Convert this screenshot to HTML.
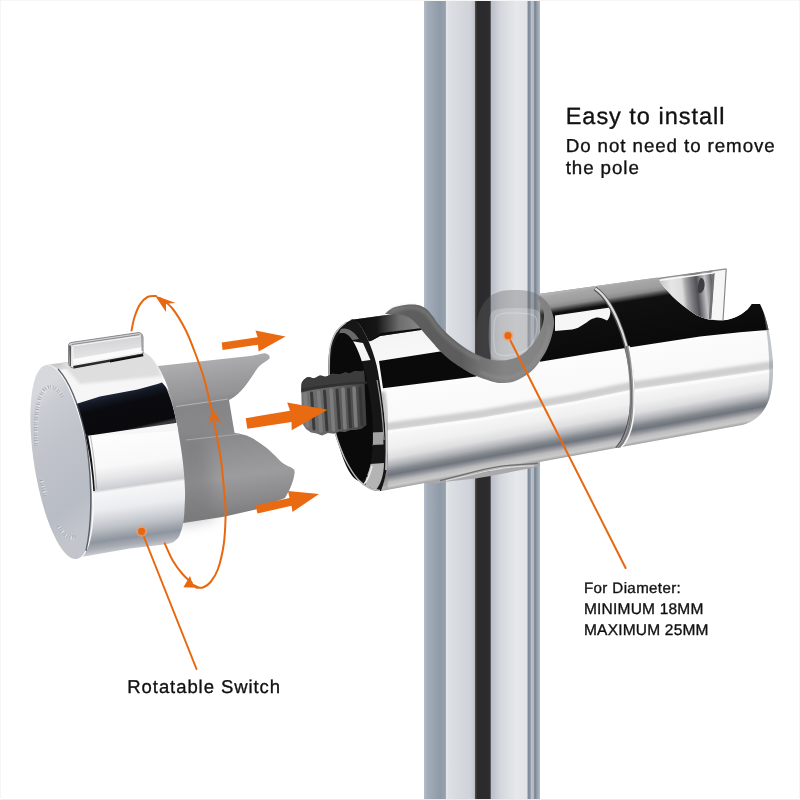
<!DOCTYPE html>
<html>
<head>
<meta charset="utf-8">
<title>Shower head holder</title>
<style>
html,body{margin:0;padding:0;background:#fff;}
body{width:800px;height:800px;overflow:hidden;position:relative;font-family:"Liberation Sans",Arial,sans-serif;color:#111;}
svg{position:absolute;left:0;top:0;display:block;}
</style>
</head>
<body>
<svg id="art" width="800" height="800" viewBox="0 0 800 800">
<defs>
<linearGradient id="pole" gradientUnits="userSpaceOnUse" x1="424" y1="0" x2="540" y2="0">
<stop offset="0" stop-color="#b4bdc7"/>
<stop offset="0.03" stop-color="#a3adb9"/>
<stop offset="0.14" stop-color="#8f9aa8"/>
<stop offset="0.185" stop-color="#98a2ae"/>
<stop offset="0.19" stop-color="#e4e7ea"/>
<stop offset="0.22" stop-color="#dcdfe4"/>
<stop offset="0.40" stop-color="#cfd3d9"/>
<stop offset="0.435" stop-color="#c2c6cc"/>
<stop offset="0.44" stop-color="#5a4d48"/>
<stop offset="0.46" stop-color="#2a2a2c"/>
<stop offset="0.57" stop-color="#2d2d30"/>
<stop offset="0.58" stop-color="#b9bfc8"/>
<stop offset="0.66" stop-color="#d4d8dd"/>
<stop offset="0.80" stop-color="#e6e8eb"/>
<stop offset="0.89" stop-color="#dfe2e6"/>
<stop offset="0.895" stop-color="#7e8997"/>
<stop offset="0.915" stop-color="#8893a0"/>
<stop offset="0.925" stop-color="#b9c0ca"/>
<stop offset="0.945" stop-color="#b0b8c2"/>
<stop offset="0.955" stop-color="#75808e"/>
<stop offset="0.97" stop-color="#8d98a5"/>
<stop offset="1" stop-color="#b3bbc6"/>
</linearGradient>

<linearGradient id="body" gradientUnits="userSpaceOnUse" x1="600" y1="285.4" x2="629.3" y2="445.6">
<stop offset="0" stop-color="#8c8c8c"/>
<stop offset="0.05" stop-color="#f4f4f4"/>
<stop offset="0.41" stop-color="#fcfcfc"/>
<stop offset="0.66" stop-color="#f8f8f8"/>
<stop offset="0.75" stop-color="#f0f0f0"/>
<stop offset="0.81" stop-color="#dedee0"/>
<stop offset="0.855" stop-color="#b0b2b6"/>
<stop offset="0.89" stop-color="#80848b"/>
<stop offset="0.912" stop-color="#70747c"/>
<stop offset="0.93" stop-color="#8c8f95"/>
<stop offset="0.955" stop-color="#bcbcbe"/>
<stop offset="0.98" stop-color="#cbcbcb"/>
<stop offset="1" stop-color="#a0a0a0"/>
</linearGradient>
<linearGradient id="topgray" gradientUnits="userSpaceOnUse" x1="600" y1="285.4" x2="625.7" y2="445.9">
<stop offset="0" stop-color="#b4b4b4"/>
<stop offset="0.015" stop-color="#a8a8a8"/>
<stop offset="0.06" stop-color="#9e9e9e"/>
<stop offset="0.085" stop-color="#8c8c8c"/>
<stop offset="0.105" stop-color="#4a4a4a"/>
<stop offset="0.125" stop-color="#101010"/>
<stop offset="0.5" stop-color="#080808"/>
</linearGradient>
<linearGradient id="d1" gradientUnits="userSpaceOnUse" x1="350" y1="0" x2="440" y2="0">
<stop offset="0" stop-color="#0c0c0c"/>
<stop offset="0.3" stop-color="#161616"/>
<stop offset="0.55" stop-color="#6e6e6e"/>
<stop offset="0.8" stop-color="#8a8a8a"/>
<stop offset="1" stop-color="#7a7a7a"/>
</linearGradient>
<linearGradient id="slot" gradientUnits="userSpaceOnUse" x1="658" y1="295" x2="726" y2="288">
<stop offset="0" stop-color="#a8a8a8"/>
<stop offset="0.1" stop-color="#d2d2d2"/>
<stop offset="0.2" stop-color="#e6e6e6"/>
<stop offset="0.36" stop-color="#dcdcdc"/>
<stop offset="0.42" stop-color="#a4a4a6"/>
<stop offset="0.5" stop-color="#77777b"/>
<stop offset="0.58" stop-color="#505056"/>
<stop offset="0.64" stop-color="#8a8a8e"/>
<stop offset="0.7" stop-color="#c4c4c6"/>
<stop offset="0.75" stop-color="#98989c"/>
<stop offset="0.8" stop-color="#5e5e62"/>
<stop offset="0.84" stop-color="#e8e8e8"/>
<stop offset="1" stop-color="#f4f4f4"/>
</linearGradient>
<filter id="b1" x="-20%" y="-20%" width="140%" height="140%"><feGaussianBlur stdDeviation="0.6"/></filter>
<filter id="b2" x="-20%" y="-20%" width="140%" height="140%"><feGaussianBlur stdDeviation="1.5"/></filter>
<filter id="b4" x="-60%" y="-30%" width="220%" height="160%"><feGaussianBlur stdDeviation="7"/></filter>
<filter id="b3" x="-30%" y="-30%" width="160%" height="160%"><feGaussianBlur stdDeviation="3"/></filter>
<clipPath id="bodyclip"><path d="M350,320 L657.5,277.5 C664,289 677,302.5 696,315 C706,320 716,321 726,320 C737,318 748,311 751.5,304 L760,304 C766,316 771,335 773,362 C774,395 768,418 742,425 L381,491 C386,478 388,465 387,450 C386,425 382,395 379,378 C377,362 370,340 360,325 C357,321 353,320 350,320 Z"/></clipPath>

<linearGradient id="knob" gradientUnits="userSpaceOnUse" x1="110" y1="357" x2="137" y2="548">
<stop offset="0" stop-color="#c8c8c8"/>
<stop offset="0.03" stop-color="#dcdcdc"/>
<stop offset="0.2" stop-color="#f6f6f6"/>
<stop offset="0.392" stop-color="#fdfdfd"/>
<stop offset="0.56" stop-color="#f8f8f8"/>
<stop offset="0.62" stop-color="#e6e6e8"/>
<stop offset="0.675" stop-color="#cdced2"/>
<stop offset="0.69" stop-color="#f6f6f7"/>
<stop offset="0.78" stop-color="#ebecef"/>
<stop offset="0.87" stop-color="#c0c4ca"/>
<stop offset="0.94" stop-color="#8f959e"/>
<stop offset="0.975" stop-color="#a8adb5"/>
<stop offset="1" stop-color="#c4c7cc"/>
</linearGradient>
<linearGradient id="kblack" gradientUnits="userSpaceOnUse" x1="120" y1="393" x2="129" y2="431">
<stop offset="0" stop-color="#1e2434"/>
<stop offset="0.1" stop-color="#141824"/>
<stop offset="0.3" stop-color="#0a0b10"/>
<stop offset="0.93" stop-color="#0a0a0c"/>
<stop offset="1" stop-color="#3a3a3e"/>
</linearGradient>
<linearGradient id="tab" gradientUnits="userSpaceOnUse" x1="100" y1="338" x2="103" y2="363">
<stop offset="0" stop-color="#d2d2d4"/>
<stop offset="0.4" stop-color="#dcdcde"/>
<stop offset="0.75" stop-color="#e6e6e8"/>
<stop offset="1" stop-color="#f2f2f2"/>
</linearGradient>
<clipPath id="knobclip"><path d="M47,364.8 L143.0,352.0 C144.0,352.6 147.2,354.0 149.0,355.5 C150.8,357.0 152.2,358.6 154.0,361.0 C155.8,363.4 158.1,366.5 160.0,370.0 C161.9,373.5 163.8,377.8 165.5,382.0 C167.2,386.2 168.2,388.7 170.0,395.0 C171.8,401.3 174.2,411.7 176.0,420.0 C177.8,428.3 179.2,437.0 180.5,445.0 C181.8,453.0 182.8,460.5 183.5,468.0 C184.2,475.5 184.8,483.5 185.0,490.0 C185.2,496.5 184.9,501.7 184.6,507.0 C184.3,512.3 184.2,517.3 183.4,522.0 C182.6,526.7 180.9,532.0 179.7,535.0 C178.5,538.0 177.4,538.7 176.0,540.0 C174.6,541.3 173.3,542.2 171.3,543.0 C169.3,543.8 165.2,544.2 164.0,544.5 L130,548.6 L81,557 Z"/></clipPath>
<linearGradient id="face" gradientUnits="userSpaceOnUse" x1="30" y1="400" x2="95" y2="520">
<stop offset="0" stop-color="#d6d8dd"/>
<stop offset="0.12" stop-color="#c9ccd2"/>
<stop offset="0.4" stop-color="#c0c3ca"/>
<stop offset="0.8" stop-color="#b8bcc4"/>
<stop offset="1" stop-color="#c2c5cc"/>
</linearGradient>
<linearGradient id="clip" gradientUnits="userSpaceOnUse" x1="200" y1="355" x2="225" y2="520">
<stop offset="0" stop-color="#b2b2b4"/>
<stop offset="0.12" stop-color="#a2a2a4"/>
<stop offset="0.25" stop-color="#939395"/>
<stop offset="0.3" stop-color="#858587"/>
<stop offset="0.5" stop-color="#8a8a8c"/>
<stop offset="0.75" stop-color="#9c9c9e"/>
<stop offset="0.9" stop-color="#8a8a8c"/>
<stop offset="1" stop-color="#7a7a7c"/>
</linearGradient>
<linearGradient id="band" gradientUnits="userSpaceOnUse" x1="385" y1="0" x2="555" y2="0">
<stop offset="0" stop-color="#707070"/>
<stop offset="0.12" stop-color="#5e5e5e"/>
<stop offset="0.45" stop-color="#5c5c5c"/>
<stop offset="0.55" stop-color="#707070"/>
<stop offset="0.7" stop-color="#848484"/>
<stop offset="0.9" stop-color="#848484"/>
<stop offset="1" stop-color="#7e7e7e"/>
</linearGradient>
<linearGradient id="thr" gradientUnits="userSpaceOnUse" x1="301" y1="0" x2="368" y2="0">
<stop offset="0" stop-color="#747474"/>
<stop offset="0.5" stop-color="#626262"/>
<stop offset="0.85" stop-color="#4a4a4a"/>
<stop offset="1" stop-color="#3a3a3a"/>
</linearGradient>
</defs>
<rect x="0" y="0" width="800" height="800" fill="#fff"/>
<g id="polegrp">
<rect x="424" y="0" width="116" height="800" fill="url(#pole)"/>
</g>
<!-- holder body -->
<g id="holder">
<!-- slot back wall -->
<path d="M657,278.3 L726.4,268.6 L723,321.5 L690,318 Z" fill="url(#slot)"/>
<path d="M700.5,278 C703,277.5 705,281 704.5,286 C704,291 701,294 698.5,293 C697,291 698,281 700.5,278 Z" fill="#3c3c42" filter="url(#b1)"/>
<path d="M714.5,271.5 L725.5,270 L722.5,321 L711,319.5 Z" fill="#f6f6f6"/>
<path d="M713.5,273 L710,319" stroke="#707074" stroke-width="2.4" filter="url(#b1)"/>
<path d="M657,278.6 L726.4,268.9" stroke="#8c8c8e" stroke-width="1.1" fill="none"/>
<path d="M660,280.3 L714,272.8" stroke="#fafafa" stroke-width="1.6" fill="none" filter="url(#b1)"/>
<path d="M726.2,269 L723,320.5" stroke="#8a8a8c" stroke-width="1.2" fill="none"/>
<path d="M350,320 L657.5,277.5 C664,289 677,302.5 696,315 C706,320 716,321 726,320 C737,318 748,311 751.5,304 L760,304 C766,316 771,335 773,362 C774,395 768,418 742,425 L381,491 C386,478 388,465 387,450 C386,425 382,395 379,378 C377,362 370,340 360,325 C357,321 353,320 350,320 Z" fill="url(#body)"/>
<g clip-path="url(#bodyclip)">
<!-- right black region -->
<path d="M540,290 L657.5,277.5 C664,289 677,302.5 696,315 C706,320 716,321 726,320 C737,318 748,311 751.5,304 L760,304 L775,300 L775,329.3 L740,332.3 L700,336.6 L640,345.8 L590,353.5 L540,361.8 Z" fill="url(#topgray)"/>
<!-- left dark regions -->
<path d="M345,320 L385,314.5 L440,305 L440,328.5 L421,330 L380,336 L371,341 L350,345 Z" fill="url(#d1)"/>
<path d="M371,341 L380,336 L421,330 L440,328.5 L440,326 L380,333 Z" fill="#111" filter="url(#b1)"/>
<path d="M379,361 L440,351.5 L485,366 L476,376.5 L383,388.2 Z" fill="#0a0a0a"/>
<!-- wavy reflection -->
<path d="M555,315.5 L610,307.5 C611,312 610,318 607,320.5 C602,318 598,317 595,318 C590,319 588,322 585,323.5 C580,327 576,329 572,329.5 L555,331 Z" fill="#f6f6f6" filter="url(#b1)"/>
<!-- mid line -->
<path d="M380,427.7 L480,414.2 L575,397.5 L632,385.8 L775,364.7" fill="none" stroke="#cacaca" stroke-width="8" opacity="0.9" filter="url(#b2)"/>
<path d="M380,433 L480,419.7 L575,403 L632,391.3 L775,370.5" fill="none" stroke="#fbfbfb" stroke-width="3.2" filter="url(#b1)"/>
<!-- left shoulder shading -->
<path d="M382,392 C386,420 389,450 385,488" fill="none" stroke="#8e8e90" stroke-width="6" opacity="0.6" filter="url(#b2)"/>
<!-- right end shading -->
<path d="M773,300 L773,430 L760,430 C772,400 772,350 762,305 Z" fill="#8892a0" opacity="0.5" filter="url(#b1)"/>
</g>
<!-- collar -->
<g id="collar">
<path d="M428,482.5 L442,479.8 L540,461.9 L540,466 L530,468.3 L490.6,475.9 L475.6,478.6 L445.6,481.8 L436,483.6 Z" fill="#a9a9ab"/>
<path d="M440,480.6 C460,476 480,469 500,466.3 C515,464.5 528,464 538,463.3" fill="none" stroke="#6e6e6e" stroke-width="1.3" filter="url(#b1)"/>
<path d="M446,480.6 C465,476.5 482,471.5 502,468.3 C515,466.5 526,466 534,465.8" fill="none" stroke="#e6e6e6" stroke-width="0.9" filter="url(#b1)"/>
</g>
<!-- seam ring -->
<g clip-path="url(#bodyclip)">
<path d="M595,288.5 C612,300 626,335 631,370 C635,400 632,432 617,449" fill="none" stroke="#4e4e4e" stroke-width="4.4"/>
<path d="M595.3,288.5 C612.3,300 626.3,335 631.3,370 C635.3,400 632.3,432 617.3,449" fill="none" stroke="#dcdcdc" stroke-width="2.2"/>
<path d="M626.5,346 C630.5,362 633.5,395 630.5,420 C628.5,434 623.5,443 617.5,449" fill="none" stroke="#8a8a8c" stroke-width="4" opacity="0.85" filter="url(#b1)"/>
<path d="M629,346 C633,362 636,395 633,420 C631,434 626,443 620,449" fill="none" stroke="#fcfcfc" stroke-width="1.6" opacity="0.95"/>
<path d="M626.2,346 C630.2,362 633.2,395 630.2,420 C628.2,434 623.2,443 617.2,449" fill="none" stroke="#5e5e60" stroke-width="0.9" opacity="0.8"/>
</g>
<!-- pole in front of upper body -->
<path d="M424,280 L540,280 L540,340 L531.5,348 L515,360 L490,362 L470,353 L457.5,344 L447.5,336 L439,327 L432.5,318 L424,309 Z" fill="url(#pole)"/>
<!-- loop (translucent back part) -->
<g id="loop">
<path d="M515.0,290.0 C520.0,290.0 525.7,290.4 530.0,291.5 C534.3,292.6 537.8,294.1 541.0,296.5 C544.2,298.9 547.2,301.9 549.4,306.0 C551.6,310.1 553.6,316.2 554.0,321.0 C554.4,325.8 553.9,329.0 552.0,335.0 C550.1,341.0 545.9,351.0 542.5,357.0 C539.1,363.0 536.1,367.0 531.5,371.0 C526.9,375.0 521.2,379.2 515.0,381.0 C508.8,382.8 499.8,383.5 494.0,382.0 C488.2,380.5 482.8,377.3 480.0,372.0 C477.2,366.7 477.5,357.8 477.0,350.0 C476.5,342.2 476.5,331.7 477.0,325.0 C477.5,318.3 478.2,314.5 480.0,310.0 C481.8,305.5 484.7,301.1 488.0,298.0 C491.3,294.9 495.5,292.8 500.0,291.5 C504.5,290.2 510.0,290.0 515.0,290.0 Z" fill="#606060" fill-opacity="0.36"/>
<path d="M515.0,308.0 C520.3,308.0 527.8,308.2 532.0,309.0 C536.2,309.8 538.4,310.3 540.0,313.0 C541.6,315.7 541.8,320.5 541.5,325.0 C541.2,329.5 539.9,335.7 538.0,340.0 C536.1,344.3 533.3,348.0 530.0,351.0 C526.7,354.0 522.7,356.5 518.0,358.0 C513.3,359.5 506.3,360.2 502.0,360.0 C497.7,359.8 494.2,359.5 492.0,357.0 C489.8,354.5 489.5,350.3 489.0,345.0 C488.5,339.7 488.7,330.3 489.0,325.0 C489.3,319.7 489.2,315.7 491.0,313.0 C492.8,310.3 496.0,309.8 500.0,309.0 C504.0,308.2 509.7,308.0 515.0,308.0 Z" fill="#ffffff" fill-opacity="0.22" filter="url(#b1)"/>
<path d="M515.0,313.0 C519.5,313.1 526.5,313.2 530.0,314.0 C533.5,314.8 534.8,315.7 536.0,318.0 C537.2,320.3 537.3,324.3 537.0,328.0 C536.7,331.7 535.7,336.5 534.0,340.0 C532.3,343.5 530.0,346.7 527.0,349.0 C524.0,351.3 520.0,352.9 516.0,354.0 C512.0,355.1 506.3,355.7 503.0,355.5 C499.7,355.3 497.5,355.1 496.0,353.0 C494.5,350.9 494.3,347.5 494.0,343.0 C493.7,338.5 493.7,330.3 494.0,326.0 C494.3,321.7 494.5,319.1 496.0,317.0 C497.5,314.9 499.8,314.2 503.0,313.5 C506.2,312.8 510.5,312.9 515.0,313.0 Z" fill="none" stroke="#ffffff" stroke-opacity="0.25" stroke-width="1.2" filter="url(#b1)"/>
</g>
<!-- band front -->
<path d="M385.0,313.8 C386.2,312.8 389.2,309.5 392.5,308.0 C395.8,306.5 400.8,305.5 405.0,305.0 C409.2,304.5 414.0,304.4 417.5,305.0 C421.0,305.6 423.5,306.9 426.0,308.8 C428.5,310.6 430.3,313.3 432.5,316.0 C434.7,318.7 436.5,322.0 439.0,325.0 C441.5,328.0 444.4,331.1 447.5,334.0 C450.6,336.9 453.8,339.7 457.5,342.5 C461.2,345.3 466.2,348.8 470.0,351.0 C473.8,353.2 476.7,354.6 480.0,356.0 C483.3,357.4 486.2,358.8 490.0,359.5 C493.8,360.2 498.8,360.8 503.0,360.5 C507.2,360.2 511.5,359.2 515.0,358.0 C518.5,356.8 521.2,355.0 524.0,353.0 C526.8,351.0 529.2,348.8 531.5,346.0 C533.8,343.2 536.2,339.5 538.0,336.0 C539.8,332.5 541.5,328.3 542.5,325.0 C543.5,321.7 544.0,318.9 544.0,316.0 C544.0,313.1 543.7,310.8 542.5,307.5 C541.3,304.2 537.9,298.3 537.0,296.5 L541.0,296.5 C542.4,298.1 547.2,301.9 549.4,306.0 C551.6,310.1 553.6,316.2 554.0,321.0 C554.4,325.8 553.0,330.7 552.0,335.0 C551.0,339.3 549.6,343.3 548.0,347.0 C546.4,350.7 545.2,353.0 542.5,357.0 C539.8,361.0 536.1,367.0 531.5,371.0 C526.9,375.0 519.6,379.0 515.0,381.0 C510.4,383.0 507.5,382.8 504.0,383.0 C500.5,383.2 499.0,383.3 494.0,382.0 C489.0,380.7 479.5,377.4 474.0,375.0 C468.5,372.6 465.0,370.0 461.0,367.5 C457.0,365.0 453.5,362.8 450.0,360.0 C446.5,357.2 442.9,353.9 440.0,351.0 C437.1,348.1 435.0,345.3 432.5,342.5 C430.0,339.7 427.5,336.9 425.0,334.0 C422.5,331.1 420.2,327.8 417.5,325.0 C414.8,322.2 412.1,319.2 409.0,317.5 C405.9,315.8 403.0,315.1 399.0,314.5 C395.0,313.9 387.3,314.1 385.0,314.0 Z" fill="url(#band)"/>
<!-- band highlight -->
<path d="M391.0,310.5 C393.3,310.0 400.7,307.9 405.0,307.5 C409.3,307.1 413.7,307.2 417.0,308.0 C420.3,308.8 422.7,310.2 425.0,312.0 C427.3,313.8 428.9,316.3 431.0,319.0 C433.1,321.7 435.0,325.0 437.5,328.0 C440.0,331.0 442.9,334.1 446.0,337.0 C449.1,339.9 452.3,342.8 456.0,345.5 C459.7,348.2 464.0,351.2 468.0,353.5 C472.0,355.8 478.0,358.1 480.0,359.0" fill="none" stroke="#8a8a8a" stroke-width="3.5" opacity="0.55" filter="url(#b2)"/>
<path d="M480.0,372.0 C482.3,372.8 489.7,376.0 494.0,377.0 C498.3,378.0 502.0,378.3 506.0,378.0 C510.0,377.7 514.0,376.8 518.0,375.0 C522.0,373.2 526.3,370.3 530.0,367.0 C533.7,363.7 537.2,359.5 540.0,355.0 C542.8,350.5 545.3,345.0 547.0,340.0 C548.7,335.0 549.5,327.5 550.0,325.0" fill="none" stroke="#9a9a9a" stroke-width="2.5" opacity="0.5" filter="url(#b2)"/>
<!-- opening -->
<g id="opening">
<path d="M352.0,319.5 C350.3,320.5 344.8,323.2 342.0,325.5 C339.2,327.8 336.9,329.8 335.0,333.0 C333.1,336.2 331.6,340.5 330.5,345.0 C329.4,349.5 328.8,354.2 328.5,360.0 C328.2,365.8 328.2,372.5 328.5,380.0 C328.8,387.5 329.2,397.5 330.0,405.0 C330.8,412.5 331.8,419.2 333.0,425.0 C334.2,430.8 335.0,434.2 337.0,440.0 C339.0,445.8 341.5,453.3 345.0,460.0 C348.5,466.7 353.5,475.1 358.0,480.0 C362.5,484.9 368.2,487.7 372.0,489.5 C375.8,491.3 379.5,490.8 381.0,491.0 C386,478 388,465 387,450 C386,425 382,395 379,378 C377,362 370,340 360,325 C357,321 354,319.5 352,319.5 Z" fill="#161616"/>
<!-- neck highlights -->
<path d="M351,341 L363,343 L370.5,360 L359.5,361.5 Z" fill="#f4f4f4" filter="url(#b1)"/>
<path d="M341,329 C347,327 354,331 359,339 L352,340 C349,335 345,333 339,333 Z" fill="#6a6a6a" filter="url(#b1)"/>
<path d="M357,368 C361,382 366,400 369,416 C371,426 372,436 372,446" fill="none" stroke="#e4e4e4" stroke-width="1.7" filter="url(#b1)"/>
<path d="M377,380 C381,400 383,420 384,440" fill="none" stroke="#9a9a9a" stroke-width="1.2" filter="url(#b1)"/>
<path d="M384,400 C386,420 387,445 386,470" fill="none" stroke="#c8c8c8" stroke-width="1.6" filter="url(#b1)"/>
<path d="M370.5,432.5 L383,432 L383.5,444.5 L371.5,445 Z" fill="#a2a2a2" filter="url(#b1)"/>
<path d="M370,464 L384,463 C384,474 381,484 376,490 L366,486 C364,482 368,472 370,464 Z" fill="#b4b4b4"/>
<path d="M372,466 C370,474 368,480 364,484" fill="none" stroke="#ececec" stroke-width="1.5" filter="url(#b1)"/>
<!-- hole -->
<ellipse cx="351.5" cy="407" rx="19.6" ry="74.5" transform="rotate(-7 351.5 407)" fill="#0a0a0a"/>
<path d="M360,481 C352,470 345,460 339,443 L345,440 C352,455 360,468 368,476 Z" fill="#0a0a0a"/>
<!-- left rim -->
<path d="M346.0,322.5 C344.8,323.5 341.0,326.2 339.0,328.5 C337.0,330.8 335.4,333.1 334.0,336.0 C332.6,338.9 331.3,342.0 330.5,346.0 C329.7,350.0 329.4,354.3 329.2,360.0 C329.0,365.7 329.0,372.5 329.2,380.0 C329.4,387.5 329.8,397.5 330.5,405.0 C331.2,412.5 332.3,419.2 333.5,425.0 C334.7,430.8 335.5,434.2 337.5,440.0 C339.5,445.8 342.1,453.4 345.5,460.0 C348.9,466.6 353.9,474.8 358.0,479.5 C362.1,484.2 366.3,486.7 370.0,488.5 C373.7,490.3 378.3,490.2 380.0,490.5" fill="none" stroke="#bdbdbd" stroke-width="1.5"/>
</g>
<!-- thread -->
<g id="thread">
<path d="M301.3,392.0 C301.3,390.7 301.1,386.1 301.5,384.0 C301.9,381.9 302.8,380.7 304.0,379.5 C305.2,378.3 307.1,377.2 308.8,377.0 C310.4,376.8 312.1,378.5 314.0,378.3 C315.9,378.1 318.0,375.9 320.0,375.6 C322.0,375.3 323.9,376.9 326.0,376.6 C328.1,376.3 330.3,374.1 332.5,373.8 C334.7,373.4 336.9,374.8 339.0,374.6 C341.1,374.4 343.2,372.7 345.0,372.5 C346.8,372.3 348.3,373.4 350.0,373.2 C351.7,372.9 353.3,371.3 355.0,371.0 C356.7,370.7 358.5,371.7 360.0,371.6 C361.5,371.5 363.3,370.7 364.0,370.5 L366.5,425 L362,428.5 L356,430 L350.5,430 L345,432 L339.5,431.5 L334,433.75 L328,433 L322,435.6 L316.5,433.5 L311,432.5 L306,429 L302,423 Z" fill="url(#thr)"/>
<path d="M301.3,392.0 C301.3,390.7 301.1,386.1 301.5,384.0 C301.9,381.9 302.8,380.7 304.0,379.5 C305.2,378.3 307.1,377.2 308.8,377.0 C310.4,376.8 312.1,378.5 314.0,378.3 C315.9,378.1 318.0,375.9 320.0,375.6 C322.0,375.3 323.9,376.9 326.0,376.6 C328.1,376.3 330.3,374.1 332.5,373.8 C334.7,373.4 336.9,374.8 339.0,374.6 C341.1,374.4 343.2,372.7 345.0,372.5 C346.8,372.3 348.3,373.4 350.0,373.2 C351.7,372.9 353.3,371.3 355.0,371.0 C356.7,370.7 358.5,371.7 360.0,371.6 C361.5,371.5 363.3,370.7 364.0,370.5 L365,383 C345,384.5 320,388 301.5,392.5 Z" fill="#3c3c3c"/>
<g fill="none" stroke="#808080" stroke-width="3.6" stroke-linecap="round" filter="url(#b1)" opacity="0.9">
<path d="M305,394 L307.5,426"/>
<path d="M318.5,392 L321,431"/>
<path d="M331,390 L333.5,430"/>
<path d="M343,389 L345,428"/>
<path d="M354,388 L356,426"/>
</g>
<g fill="none" stroke="#363636" stroke-width="3" stroke-linecap="round" filter="url(#b1)" opacity="0.9">
<path d="M311.5,393 L314,429"/>
<path d="M324.5,391 L327,430"/>
<path d="M337,390 L339.5,428"/>
<path d="M348.5,389 L350.5,427"/>
<path d="M360,388 L362,425"/>
</g>
<path d="M301.5,390 C320,386.5 345,383.5 367,382.5" fill="none" stroke="#2e2e2e" stroke-width="2.5" filter="url(#b1)" opacity="0.8"/>
</g>
</g>
<!-- knob -->
<g id="knobgrp">
<!-- clip (gray plastic) -->
<path d="M158,366 L250,356 C258,355 262,353 265,353.2 Q270.5,354.5 269.5,358.5 C266,362 262,363 258.5,367 C250,378 244,392 229,400 L234.5,432.8 L238.7,433.8 C246,434.5 254,438 266.4,447.7 C273,453 279,460 283.4,463.6 C287,466 290,467 292,467.9 Q295.5,469.5 294.5,473.5 C294,478 292,485 288.7,491.3 L285,498 L255.7,509.4 L223.8,516.8 L180,523.5 Z" fill="url(#clip)"/>
<path d="M176,440 L205,436 L215,518 L176,526 Z" fill="#6e6e70" opacity="0.4" filter="url(#b4)"/>
<path d="M176,406.5 L228,399" stroke="#b4b4b6" stroke-width="1.2" fill="none"/>
<path d="M186,440 L240,434" stroke="#a8a8aa" stroke-width="1" fill="none"/>
<!-- body -->
<path id="knobbody" d="M47,364.8 L143.0,352.0 C144.0,352.6 147.2,354.0 149.0,355.5 C150.8,357.0 152.2,358.6 154.0,361.0 C155.8,363.4 158.1,366.5 160.0,370.0 C161.9,373.5 163.8,377.8 165.5,382.0 C167.2,386.2 168.2,388.7 170.0,395.0 C171.8,401.3 174.2,411.7 176.0,420.0 C177.8,428.3 179.2,437.0 180.5,445.0 C181.8,453.0 182.8,460.5 183.5,468.0 C184.2,475.5 184.8,483.5 185.0,490.0 C185.2,496.5 184.9,501.7 184.6,507.0 C184.3,512.3 184.2,517.3 183.4,522.0 C182.6,526.7 180.9,532.0 179.7,535.0 C178.5,538.0 177.4,538.7 176.0,540.0 C174.6,541.3 173.3,542.2 171.3,543.0 C169.3,543.8 165.2,544.2 164.0,544.5 L130,548.6 L81,557 Z" fill="url(#knob)"/>
<g clip-path="url(#knobclip)">
<path d="M60,370 L161,352 L190,420 L190,430 L84,437 Z" fill="#f6f6f7"/>
<path d="M60,362 L150,350 L162,376 L80,384 Z" fill="#dedede" filter="url(#b2)"/>
<path d="M76,404 L100,396.6 L137.5,389.6 L157.5,384 L162,382.5 L190,415 L190,421 L86,436 Z" fill="url(#kblack)"/>
<path d="M86.8,436 C90,452 92.5,472 93.6,491" fill="none" stroke="#141414" stroke-width="2.6" filter="url(#b1)"/>
<path d="M90.5,436 C93.5,452 95.5,472 96.6,489" fill="none" stroke="#9a9a9c" stroke-width="1.2" opacity="0.6" filter="url(#b1)"/>
<path d="M162,378 C170,395 178,420 183,450 L187,450 L187,380 Z" fill="#fff" opacity="0.7" filter="url(#b1)"/>
</g>
<!-- face -->
<ellipse cx="62.2" cy="462" rx="27.8" ry="98.6" transform="rotate(-9 62.2 462)" fill="#fbfbfb"/>
<ellipse cx="61.3" cy="462" rx="27.2" ry="98.2" transform="rotate(-9 61.3 462)" fill="url(#face)"/>
<path d="M58,369 C68,380 78,402 84.5,432 C91,465 94,515 86,551" fill="none" stroke="#4a4e56" stroke-width="1.4" opacity="0.85" filter="url(#b1)"/>
<!-- embossed ring -->
<g fill="none" stroke-width="3.6" stroke-dasharray="1.5 1 0.8 1.4 2 1 1 1.6">
<g stroke="#8d9199" opacity="0.6" filter="url(#b1)">
<path d="M36.5,446.0 C36.4,445.1 36.2,442.5 36.1,440.7 C36.0,439.0 35.9,437.3 35.9,435.6 C35.8,433.9 35.8,432.3 35.8,430.6 C35.8,429.0 35.8,427.4 35.8,425.8 C35.9,424.2 35.9,422.7 36.0,421.2 C36.1,419.7 36.2,418.2 36.3,416.8 C36.4,415.3 36.6,413.9 36.7,412.6 C36.9,411.2 37.1,409.9 37.3,408.6 C37.5,407.4 37.7,406.2 38.0,405.0 C38.2,403.8 38.5,402.7 38.7,401.6 C39.0,400.5 39.3,399.5 39.7,398.6 C40.0,397.6 40.3,396.7 40.7,395.8 C41.0,395.0 41.4,394.2 41.8,393.4 C42.2,392.7 42.6,392.0 43.0,391.4 C43.4,390.8 43.9,390.2 44.3,389.7 C44.8,389.3 45.2,388.8 45.7,388.5 C46.2,388.1 46.7,387.8 47.2,387.5 C47.7,387.3 48.2,387.1 48.8,387.0 C49.3,386.9 49.8,386.8 50.4,386.9 C50.9,386.9 51.5,387.0 52.0,387.1 C52.6,387.2 53.2,387.5 53.7,387.7 C54.3,388.0 54.9,388.3 55.5,388.7 C56.1,389.1 56.7,389.6 57.3,390.1 C57.9,390.6 58.5,391.2 59.1,391.9 C59.7,392.5 60.3,393.2 60.9,394.0 C61.5,394.8 62.4,396.1 62.7,396.5"/>
<path d="M45.5,495.7 C45.4,495.4 45.1,494.4 44.9,493.7 C44.7,493.0 44.5,492.3 44.3,491.6 C44.2,490.9 44.0,490.2 43.8,489.5 C43.6,488.7 43.4,488.0 43.2,487.3 C43.0,486.6 42.9,485.9 42.7,485.1 C42.5,484.4 42.3,483.7 42.2,482.9 C42.0,482.2 41.8,481.5 41.7,480.7 C41.5,480.0 41.3,478.9 41.2,478.5"/>
<path d="M75.1,536.3 C74.9,536.4 74.1,536.8 73.6,536.9 C73.0,537.1 72.5,537.1 71.9,537.1 C71.4,537.2 70.8,537.1 70.3,537.0 C69.7,536.8 69.1,536.7 68.5,536.4 C67.9,536.1 67.3,535.8 66.7,535.4 C66.1,535.0 65.5,534.6 64.9,534.0 C64.3,533.5 63.7,532.9 63.1,532.3 C62.5,531.6 61.9,530.9 61.2,530.2 C60.6,529.4 60.0,528.5 59.4,527.7 C58.8,526.8 57.9,525.3 57.6,524.8"/>
</g>
<g stroke="#f2f3f5" opacity="0.55" filter="url(#b1)" stroke-dashoffset="1.3">
<path d="M37.0,446.3 C36.9,445.4 36.7,442.8 36.6,441.0 C36.5,439.3 36.4,437.6 36.4,435.9 C36.3,434.2 36.3,432.6 36.3,430.9 C36.3,429.3 36.3,427.7 36.3,426.1 C36.4,424.5 36.4,423.0 36.5,421.5 C36.6,420.0 36.7,418.5 36.8,417.1 C36.9,415.6 37.1,414.2 37.2,412.9 C37.4,411.5 37.6,410.2 37.8,408.9 C38.0,407.7 38.2,406.5 38.5,405.3 C38.7,404.1 39.0,403.0 39.2,401.9 C39.5,400.8 39.8,399.8 40.2,398.9 C40.5,397.9 40.8,397.0 41.2,396.1 C41.5,395.3 41.9,394.5 42.3,393.7 C42.7,393.0 43.1,392.3 43.5,391.7 C43.9,391.1 44.4,390.5 44.8,390.0 C45.3,389.6 45.7,389.1 46.2,388.8 C46.7,388.4 47.2,388.1 47.7,387.8 C48.2,387.6 48.7,387.4 49.3,387.3 C49.8,387.2 50.3,387.1 50.9,387.2 C51.4,387.2 52.0,387.3 52.5,387.4 C53.1,387.5 53.7,387.8 54.2,388.0 C54.8,388.3 55.4,388.6 56.0,389.0 C56.6,389.4 57.2,389.9 57.8,390.4 C58.4,390.9 59.0,391.5 59.6,392.2 C60.2,392.8 60.8,393.5 61.4,394.3 C62.0,395.1 62.9,396.4 63.2,396.8"/>
<path d="M46.0,496.0 C45.9,495.7 45.6,494.7 45.4,494.0 C45.2,493.3 45.0,492.6 44.8,491.9 C44.7,491.2 44.5,490.5 44.3,489.8 C44.1,489.0 43.9,488.3 43.7,487.6 C43.5,486.9 43.4,486.2 43.2,485.4 C43.0,484.7 42.8,484.0 42.7,483.2 C42.5,482.5 42.3,481.8 42.2,481.0 C42.0,480.3 41.8,479.2 41.7,478.8"/>
<path d="M75.6,536.6 C75.4,536.7 74.6,537.1 74.1,537.2 C73.5,537.4 73.0,537.4 72.4,537.4 C71.9,537.5 71.3,537.4 70.8,537.3 C70.2,537.1 69.6,537.0 69.0,536.7 C68.4,536.4 67.8,536.1 67.2,535.7 C66.6,535.3 66.0,534.9 65.4,534.3 C64.8,533.8 64.2,533.2 63.6,532.6 C63.0,531.9 62.4,531.2 61.7,530.5 C61.1,529.7 60.5,528.8 59.9,528.0 C59.3,527.1 58.4,525.6 58.1,525.1"/>
</g>
</g>
<!-- tab -->
<path d="M70.5,342.6 L139,332.5 Q142.5,333 143,337 L143,354 L73,368 Q68.5,367 68.5,362 L68.5,346 Q68.5,343.2 70.5,342.6 Z" fill="url(#tab)" stroke="#7c7c7e" stroke-width="0.9"/>
<path d="M73,359 L142.5,347 L142.5,352 L73.5,364.6 Z" fill="#fbfbfb" filter="url(#b1)"/>
<path d="M73,366 L143,353.4 L143.3,355.8 L74,368.6 Z" fill="#2a2a2a" filter="url(#b1)"/>
<path d="M110,360.5 L143,354.4 L143.3,356.2 L110,362.4 Z" fill="#111" filter="url(#b1)"/>
<path d="M71.5,344.6 L139.5,334.6" stroke="#6e6e70" stroke-width="0.9" opacity="0.8" filter="url(#b1)"/>
<path d="M72.5,346 L139.5,336.2" stroke="#f4f4f4" stroke-width="1" filter="url(#b1)"/>
<path d="M70,345.5 L70.5,366" stroke="#58585a" stroke-width="1.8" filter="url(#b1)"/>
<path d="M72.8,347 L73.2,362" stroke="#f6f6f6" stroke-width="1.1" filter="url(#b1)"/>
<path d="M141.8,335 L142.3,351" stroke="#9a9a9c" stroke-width="1.3" filter="url(#b1)"/>
</g>
<!-- arrows -->
<g id="arrows" fill="#ea6a12">
<path d="M221.7,342.5 L257.7,337.2 L255.5,330.5 L285.5,336.5 L258.7,351.6 L257.9,344.8 L222.6,350.1 Z"/>
<path d="M245.7,418.2 L290,410.7 L287.2,402.5 L327.5,409.7 L291.7,430.3 L291.5,422 L247.3,428.8 Z"/>
<path d="M255.5,505.5 L289.5,498 L288,491 L319,494 L292.5,512 L291.5,505.8 L257.5,513.5 Z"/>
</g>
<!-- rotation arrows and pointers -->
<g id="orange" fill="none" stroke="#e8680f" stroke-width="2" stroke-linecap="round">
<path d="M131.5,330.6 C132.0,328.4 133.0,321.9 134.4,317.5 C135.8,313.1 137.8,307.8 140.0,304.4 C142.2,301.0 144.8,298.4 147.5,297.0 C150.2,295.6 154.6,296.2 156.0,296.0"/>
<path d="M160.0,298.0 C162.0,299.7 167.8,302.9 172.0,308.0 C176.2,313.1 181.3,321.6 185.0,328.8 C188.7,335.9 191.3,342.9 194.4,351.0 C197.5,359.1 201.0,368.1 203.8,377.5 C206.5,386.9 208.9,397.9 211.0,407.5 C213.1,417.1 214.8,426.2 216.5,435.0 C218.2,443.8 219.6,449.6 221.0,460.0 C222.4,470.4 223.9,488.2 224.7,497.5 C225.5,506.8 225.8,508.2 225.6,516.0 C225.4,523.8 225.0,535.2 223.8,544.0 C222.5,552.8 220.2,562.7 218.0,569.0 C215.8,575.3 213.1,578.9 210.6,582.0 C208.1,585.1 205.4,586.6 203.0,587.5 C200.6,588.4 197.2,587.5 196.0,587.5"/>
<path d="M164.7,543.4 C166.1,546.3 170.0,555.9 173.0,561.0 C176.0,566.1 179.3,570.3 182.5,574.0 C185.7,577.7 190.4,581.5 192.0,583.0"/>
<path d="M141.6,531 L196.5,669"/>
<path d="M508,335.7 L625.6,568"/>
</g>
<g id="orangeheads" fill="#e8680f">
<path d="M155,295.5 L175.6,303 L166,303.8 L166,312 Z"/>
<path d="M212.75,408.5 L221.5,423.4 L214.2,418.5 L208.4,424.4 Z"/>
<path d="M183.4,587.2 L190,576 L192.5,583.5 L202,588 Z"/>
<circle cx="141.6" cy="531.3" r="5.5" fill="#f0a070" opacity="0.6" filter="url(#b1)"/>
<circle cx="141.6" cy="531.3" r="3.6"/>
<circle cx="508" cy="335.7" r="5.5" fill="#f0a070" opacity="0.6" filter="url(#b1)"/>
<circle cx="508" cy="335.7" r="3.6"/>
</g>
<g id="labels" opacity="0.97" font-family="'Liberation Sans', Arial, sans-serif" fill="#0a0a0a" stroke="#0a0a0a" stroke-width="0.35" stroke-linejoin="round" style="text-rendering:geometricPrecision">
<text x="565.7" y="123.8" font-size="23.5" letter-spacing="0.98">Easy to install</text>
<text x="565.7" y="152.2" font-size="18.8" letter-spacing="0.9">Do not need to remove</text>
<text x="565.7" y="173.7" font-size="18.8" letter-spacing="0.9">the pole</text>
<text x="584" y="592.7" font-size="15.1" letter-spacing="0.38">For Diameter:</text>
<text x="584" y="613.9" font-size="15.5" letter-spacing="0.2">MINIMUM 18MM</text>
<text x="584" y="635.3" font-size="15.5" letter-spacing="0.2">MAXIMUM 25MM</text>
<text x="127.3" y="692.8" font-size="18.5" letter-spacing="0.93">Rotatable Switch</text>
</g>
<g id="edge">
<rect x="0" y="0" width="800" height="1" fill="#f6f6f6"/>
<rect x="0" y="799" width="800" height="1" fill="#ebebeb"/>
<rect x="0" y="0" width="1" height="800" fill="#f5f5f5"/>
<rect x="799" y="0" width="1" height="800" fill="#f5f5f5"/>
</g>
</svg>
</body>
</html>
